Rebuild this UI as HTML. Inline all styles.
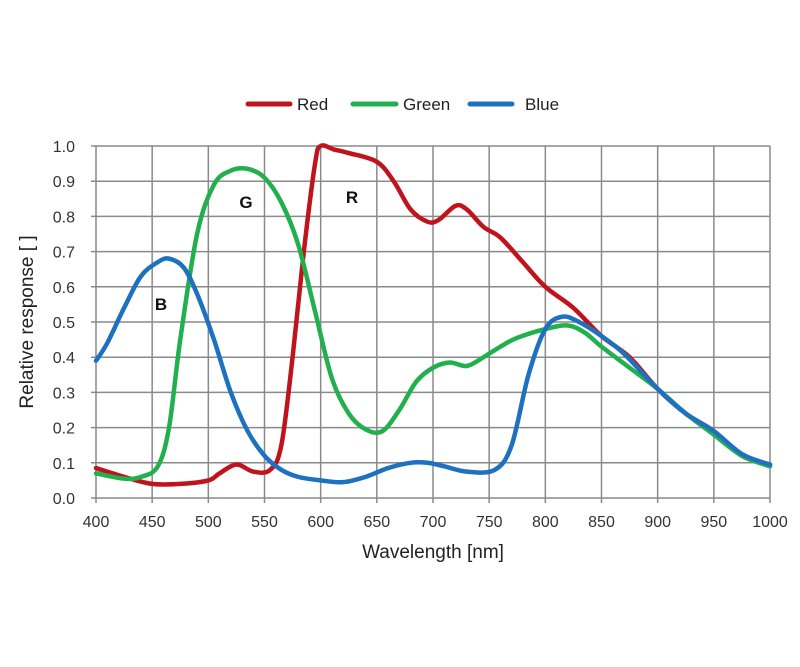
<!DOCTYPE html>
<html><head><meta charset="utf-8"><style>
body{margin:0;background:#fff;}
svg{display:block;font-family:"Liberation Sans",sans-serif;}
</style></head><body>
<svg id="chart" width="800" height="667">
<g id="grid"></g>
<g id="axes"></g>
<g id="series"></g>
<g>
 <line x1="248" y1="104" x2="290" y2="104" stroke="#c0141c" stroke-width="5" stroke-linecap="round"/>
 <text x="297" y="110" font-size="17" fill="#222">Red</text>
 <line x1="353" y1="104" x2="396" y2="104" stroke="#22b04e" stroke-width="5" stroke-linecap="round"/>
 <text x="403" y="110" font-size="17" fill="#222">Green</text>
 <line x1="470" y1="104" x2="512" y2="104" stroke="#1e70c0" stroke-width="5" stroke-linecap="round"/>
 <text x="525" y="110" font-size="17" fill="#222">Blue</text>
</g>
<text x="33" y="322" font-size="19" fill="#222" text-anchor="middle" transform="rotate(-90 33 322)">Relative response [ ]</text>
<text x="433" y="558" font-size="19" fill="#222" text-anchor="middle">Wavelength [nm]</text>
<text x="161" y="310" font-size="17" font-weight="bold" fill="#111" text-anchor="middle">B</text>
<text x="246" y="208" font-size="17" font-weight="bold" fill="#111" text-anchor="middle">G</text>
<text x="352" y="203" font-size="17" font-weight="bold" fill="#111" text-anchor="middle">R</text>
</svg>
<script>
const xTicks=[400,450,500,550,600,650,700,750,800,850,900,950,1000];
const yTicks=[0,0.1,0.2,0.3,0.4,0.5,0.6,0.7,0.8,0.9,1.0];
const yTickLabels=["0.0","0.1","0.2","0.3","0.4","0.5","0.6","0.7","0.8","0.9","1.0"];
const redX=[400,425,450,475,500,510,525,540,555,565,575,585,595,600,612,625,650,665,680,695,705,720,730,745,760,780,800,825,850,875,900,925,950,975,1000];
const redY=[0.085,0.06,0.04,0.04,0.05,0.07,0.095,0.075,0.08,0.15,0.4,0.7,0.95,1.0,0.99,0.98,0.955,0.9,0.82,0.785,0.79,0.83,0.82,0.77,0.74,0.67,0.6,0.54,0.46,0.4,0.31,0.24,0.19,0.12,0.095];
const greenX=[400,425,440,455,465,475,490,505,520,535,550,565,580,595,610,625,640,655,670,685,700,715,730,745,760,775,800,820,835,850,875,900,925,950,975,1000];
const greenY=[0.07,0.055,0.06,0.09,0.2,0.45,0.75,0.89,0.93,0.935,0.91,0.84,0.72,0.53,0.34,0.24,0.195,0.19,0.25,0.33,0.37,0.385,0.375,0.4,0.43,0.455,0.48,0.49,0.47,0.43,0.37,0.31,0.24,0.18,0.12,0.09];
const blueX=[400,410,425,440,455,465,478,490,505,520,535,550,565,580,600,620,640,660,680,695,710,730,755,770,785,800,815,830,850,870,900,925,950,975,1000];
const blueY=[0.39,0.44,0.54,0.63,0.67,0.68,0.655,0.58,0.45,0.3,0.19,0.12,0.08,0.06,0.05,0.045,0.06,0.085,0.1,0.1,0.09,0.075,0.08,0.15,0.35,0.48,0.515,0.5,0.46,0.41,0.31,0.24,0.19,0.125,0.095];

const X0=96,X1=770,Y0=498,Y1=146;
const xs=v=>X0+(v-400)/600*(X1-X0);
const ys=v=>Y0-v*(Y0-Y1);
const NS="http://www.w3.org/2000/svg";
function mk(tag,attrs,parent){const e=document.createElementNS(NS,tag);for(const k in attrs)e.setAttribute(k,attrs[k]);parent.appendChild(e);return e;}
const grid=document.getElementById('grid'),axes=document.getElementById('axes'),series=document.getElementById('series');
xTicks.forEach(t=>{
 const l=mk('line',{x1:xs(t),x2:xs(t),y1:Y1,y2:Y0+5,stroke:'#8a8a8a','stroke-width':1.5},grid);
 
 
 const tx=mk('text',{x:xs(t),y:527,'font-size':16,fill:'#333','text-anchor':'middle'},axes);
 tx.textContent=t;
 
 
});
yTicks.forEach((t,i)=>{
 const l=mk('line',{x1:X0-5,x2:X1,y1:ys(t),y2:ys(t),stroke:'#8a8a8a','stroke-width':1.5},grid);
 
 
 const tx=mk('text',{x:X0-21,y:ys(t)+6,'font-size':16,fill:'#333','text-anchor':'end'},axes);
 tx.textContent=yTickLabels[i];
 
 
});
function path(xa,ya){
 const p=xa.map((x,i)=>[xs(x),ys(ya[i])]);
 let d='M'+p[0][0]+','+p[0][1];
 for(let i=0;i<p.length-1;i++){
  const p0=p[i-1]||p[i],p1=p[i],p2=p[i+1],p3=p[i+2]||p2;
  const c1=[p1[0]+(p2[0]-p0[0])/6,p1[1]+(p2[1]-p0[1])/6];
  const c2=[p2[0]-(p3[0]-p1[0])/6,p2[1]-(p3[1]-p1[1])/6];
  d+=`C${c1[0]},${c1[1]} ${c2[0]},${c2[1]} ${p2[0]},${p2[1]}`;
 }
 return d;
}
const r=mk('path',{d:path(redX,redY),fill:'none',stroke:'#c0141c','stroke-width':4.5,'stroke-linejoin':'round','stroke-linecap':'round'},series);


const g=mk('path',{d:path(greenX,greenY),fill:'none',stroke:'#22b04e','stroke-width':4.5,'stroke-linejoin':'round','stroke-linecap':'round'},series);


const b=mk('path',{d:path(blueX,blueY),fill:'none',stroke:'#1e70c0','stroke-width':4.5,'stroke-linejoin':'round','stroke-linecap':'round'},series);


</script>
</body></html>
